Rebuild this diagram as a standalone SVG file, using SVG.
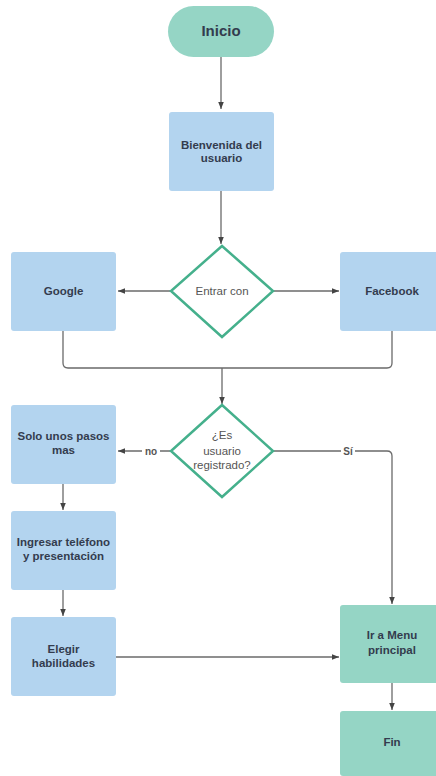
<svg xmlns="http://www.w3.org/2000/svg" width="436" height="776" viewBox="0 0 436 776">
<defs>
<marker id="ah" viewBox="0 0 10 10" refX="10" refY="5" markerWidth="7" markerHeight="7" orient="auto" markerUnits="userSpaceOnUse"><path d="M0,1 L10,5 L0,9 Z" fill="#444"/></marker>
<style>
.blue{fill:#b3d4ef;}
.green{fill:#95d5c5;}
.dia{fill:#fff;stroke:#45b08c;stroke-width:2.5;}
.t{font-family:"Liberation Sans",Arial,sans-serif;font-size:11.5px;font-weight:bold;fill:#333c4e;text-anchor:middle;}
.tr{font-family:"Liberation Sans",Arial,sans-serif;font-size:11.5px;fill:#555;text-anchor:middle;}
.lbl{font-family:"Liberation Sans",Arial,sans-serif;font-size:10px;font-weight:bold;fill:#555;text-anchor:middle;}
.c{fill:none;stroke:#6a6a6a;stroke-width:1.3;}
</style>
</defs>
<rect width="436" height="776" fill="#fff"/>
<g id="connectors">
<path class="c" d="M221,57 V109" marker-end="url(#ah)"/>
<path class="c" d="M221,191 V244" marker-end="url(#ah)"/>
<path class="c" d="M171,291 H118" marker-end="url(#ah)"/>
<path class="c" d="M273,291 H339" marker-end="url(#ah)"/>
<path class="c" d="M63,331 V363 Q63,368 68,368 H387 Q392,368 392,363 V331"/>
<path class="c" d="M222,368 V404" marker-end="url(#ah)"/>
<path class="c" d="M171,451 H118" marker-end="url(#ah)"/>
<path class="c" d="M273,451 H387 Q392,451 392,456 V604" marker-end="url(#ah)"/>
<path class="c" d="M63,484 V510" marker-end="url(#ah)"/>
<path class="c" d="M63,590 V616" marker-end="url(#ah)"/>
<path class="c" d="M116,657 H339" marker-end="url(#ah)"/>
<path class="c" d="M392,683 V710" marker-end="url(#ah)"/>
<rect x="142" y="445" width="18" height="12" fill="#fff"/>
<text class="lbl" x="151" y="455">no</text>
<rect x="341" y="445" width="14" height="12" fill="#fff"/>
<text class="lbl" x="348" y="455">Sí</text>
</g>
<g id="inicio">
<rect class="green" x="168" y="6" width="106" height="51" rx="25.5"/>
<text class="t" x="221" y="36" style="font-size:15px">Inicio</text>
</g>
<g id="bienvenida">
<rect class="blue" x="169" y="112" width="105" height="79" rx="3"/>
<text class="t" x="221.5" y="149">Bienvenida del</text>
<text class="t" x="221.5" y="162">usuario</text>
</g>
<g id="entrar">
<polygon class="dia" points="222,246 273,291 222,337 171,291"/>
<text class="tr" x="222" y="295">Entrar con</text>
</g>
<g id="google">
<rect class="blue" x="11" y="252" width="105" height="79" rx="3"/>
<text class="t" x="63.5" y="295">Google</text>
</g>
<g id="facebook">
<rect class="blue" x="340" y="252" width="100" height="79" rx="3"/>
<text class="t" x="392" y="295">Facebook</text>
</g>
<g id="registrado">
<polygon class="dia" points="222,405 273,451 222,497 171,451"/>
<text class="tr" x="222" y="439">¿Es</text>
<text class="tr" x="222" y="455">usuario</text>
<text class="tr" x="222" y="469">registrado?</text>
</g>
<g id="solo">
<rect class="blue" x="11" y="405" width="105" height="79" rx="3"/>
<text class="t" x="63.5" y="440">Solo unos pasos</text>
<text class="t" x="63.5" y="454">mas</text>
</g>
<g id="ingresar">
<rect class="blue" x="11" y="511" width="105" height="79" rx="3"/>
<text class="t" x="63.5" y="546">Ingresar teléfono</text>
<text class="t" x="63.5" y="560">y presentación</text>
</g>
<g id="elegir">
<rect class="blue" x="11" y="617" width="105" height="79" rx="3"/>
<text class="t" x="63.5" y="653">Elegir</text>
<text class="t" x="63.5" y="667">habilidades</text>
</g>
<g id="menu">
<rect class="green" x="340" y="605" width="100" height="78" rx="3"/>
<text class="t" x="392" y="639">Ir a Menu</text>
<text class="t" x="392" y="654">principal</text>
</g>
<g id="fin">
<rect class="green" x="340" y="711" width="100" height="65" rx="3"/>
<text class="t" x="392" y="746">Fin</text>
</g>
</svg>
